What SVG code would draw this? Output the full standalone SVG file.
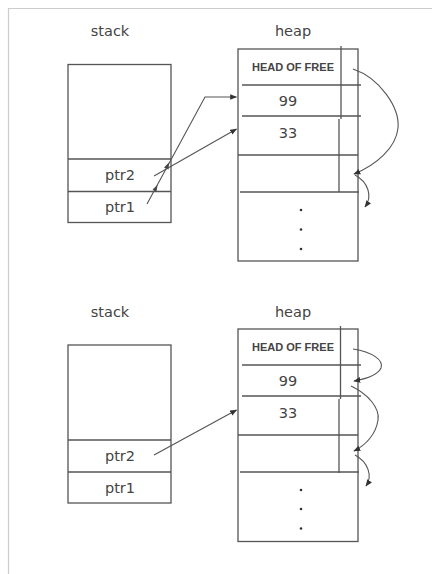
<svg xmlns="http://www.w3.org/2000/svg" width="432" height="574" viewBox="0 0 432 574">
<style>
.box{fill:#fff;stroke:#555;stroke-width:1.3}
.ln{fill:none;stroke:#555;stroke-width:1.3}
.cn{fill:none;stroke:#555;stroke-width:1.1}
.t{font-family:"DejaVu Sans","Liberation Sans",sans-serif;font-size:14.5px;fill:#444;text-anchor:middle}
.h{font-family:"Liberation Sans","DejaVu Sans",sans-serif;font-size:10.8px;font-weight:bold;fill:#444;text-anchor:middle}
.dot{fill:#333}
</style>
<defs>
<marker id="ah" viewBox="0 0 10 10" refX="9" refY="5" markerWidth="7" markerHeight="7" orient="auto" markerUnits="userSpaceOnUse">
<path d="M0,1 L10,5 L0,9 Z" fill="#333"/>
</marker>
</defs>
<rect width="432" height="574" fill="#fff"/>
<path d="M8.5,574 V8.5 H432" fill="none" stroke="#ccc" stroke-width="1.2"/>

<g id="top-stack">
<text class="t" x="110" y="36">stack</text>
<rect class="box" x="68" y="64.5" width="103" height="158"/>
<line class="ln" x1="68" y1="159" x2="171" y2="159"/>
<line class="ln" x1="68" y1="191.5" x2="171" y2="191.5"/>
<text class="t" x="120" y="180">ptr2</text>
<text class="t" x="120" y="212">ptr1</text>
</g>

<g id="top-heap">
<text class="t" x="293" y="36">heap</text>
<rect class="box" x="238" y="49" width="120" height="212"/>
<line class="ln" x1="341" y1="46" x2="341" y2="119"/>
<line class="ln" x1="339" y1="119" x2="339" y2="192"/>
<line class="ln" x1="242" y1="85" x2="361" y2="85"/>
<line class="ln" x1="242" y1="116" x2="361" y2="116"/>
<line class="ln" x1="238" y1="155" x2="358" y2="155"/>
<line class="ln" x1="240" y1="192" x2="359" y2="192"/>
<text class="h" x="293" y="71" textLength="82" lengthAdjust="spacingAndGlyphs">HEAD OF FREE</text>
<text class="t" x="288" y="106">99</text>
<text class="t" x="288" y="138">33</text>
<circle class="dot" cx="301" cy="210" r="1.3"/>
<circle class="dot" cx="301" cy="229.5" r="1.3"/>
<circle class="dot" cx="301" cy="249" r="1.3"/>
</g>

<g id="bottom-stack">
<text class="t" x="110" y="317">stack</text>
<rect class="box" x="68" y="345" width="103" height="158"/>
<line class="ln" x1="68" y1="440" x2="171" y2="440"/>
<line class="ln" x1="68" y1="472" x2="171" y2="472"/>
<text class="t" x="120" y="461">ptr2</text>
<text class="t" x="120" y="492.5">ptr1</text>
</g>

<g id="bottom-heap">
<text class="t" x="293" y="316.5">heap</text>
<rect class="box" x="238" y="329" width="120" height="212.5"/>
<line class="ln" x1="340.5" y1="326" x2="340.5" y2="399"/>
<line class="ln" x1="339" y1="399" x2="339" y2="473"/>
<line class="ln" x1="242" y1="365" x2="361" y2="365"/>
<line class="ln" x1="242" y1="396" x2="361" y2="396"/>
<line class="ln" x1="238" y1="435" x2="358" y2="435"/>
<line class="ln" x1="240" y1="472" x2="359" y2="472"/>
<text class="h" x="293" y="351" textLength="82" lengthAdjust="spacingAndGlyphs">HEAD OF FREE</text>
<text class="t" x="288" y="386">99</text>
<text class="t" x="288" y="418">33</text>
<circle class="dot" cx="301" cy="490" r="1.3"/>
<circle class="dot" cx="301" cy="509" r="1.3"/>
<circle class="dot" cx="301" cy="528.5" r="1.3"/>
</g>

<g id="connectors">
<path class="cn" d="M147,204 L205,97 L236.5,97" marker-end="url(#ah)"/>
<path d="M152.5,189.5 L157.5,185 L156.5,191.5 Z" fill="#444"/>
<path d="M164,167.5 L169,162.5 L168.5,169.5 Z" fill="#444"/>
<path class="cn" d="M154,176 L236.5,129" marker-end="url(#ah)"/>
<path class="cn" d="M353,69 C380,78 400,108 398,128 C396,148 376,165 354,174" marker-end="url(#ah)"/>
<path class="cn" d="M355,175 C368,182 373,196 365,207" marker-end="url(#ah)"/>

<path class="cn" d="M154,455 L236.5,410" marker-end="url(#ah)"/>
<path class="cn" d="M353,349 C372,352 384,360 381,368 C378,375 365,379 354,381" marker-end="url(#ah)"/>
<path class="cn" d="M351,386 C368,394 380,408 378,420 C376,434 366,445 354,451" marker-end="url(#ah)"/>
<path class="cn" d="M355,455 C368,462 373,476 366,486" marker-end="url(#ah)"/>
</g>
</svg>
